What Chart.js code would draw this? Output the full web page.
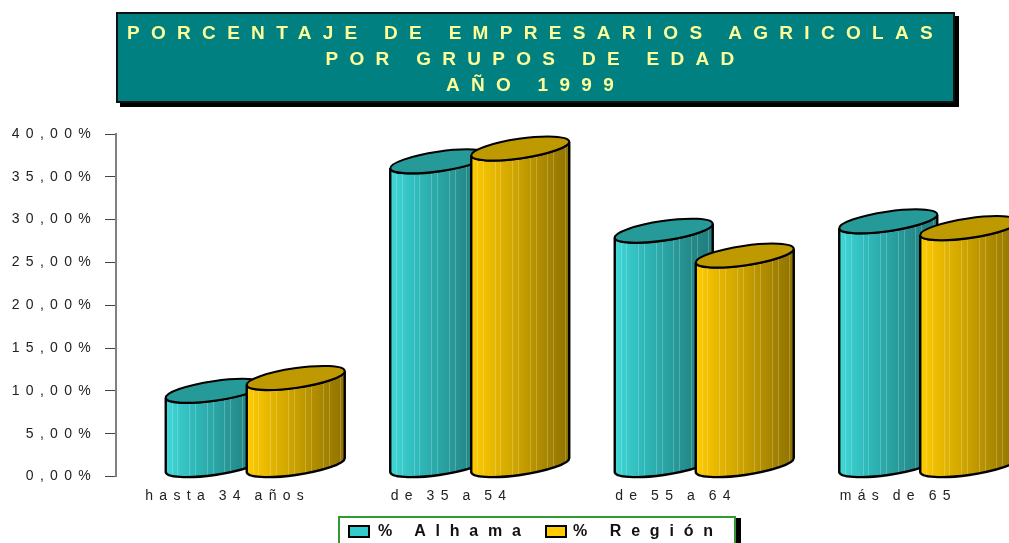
<!DOCTYPE html>
<html>
<head>
    <title>Empresarios agricolas</title>
    <style>
        html, body { margin: 0; padding: 0; background: #fff; overflow: hidden; width: 1009px; height: 543px; }
        body { position: relative; font-family: "Liberation Sans", Arial, sans-serif; }
        canvas { position: absolute; left: 0; top: 0; }
        .banner {
            position: absolute; left: 116px; top: 12px; width: 835px; height: 87px;
            background: #008080; border: 2px solid #111; box-shadow: 4px 4px 0 #000;
            color: #ffff99; font-weight: bold; font-size: 19px; line-height: 26px;
            letter-spacing: 11.3px; word-spacing: -1px; text-align: center;
        }
        .banner div:first-child { margin-top: 6px; }
        .legend {
            position: absolute; left: 338px; top: 516px; width: 394px; height: 40px;
            border: 2px solid #339933; box-shadow: 5px 2px 0 #000; background: #fff;
            font-weight: bold; font-size: 16px; color: #111; letter-spacing: 9.8px; word-spacing: -1.5px;
        }
        .legend span { position: absolute; top: 4px; white-space: nowrap; }
        .legend i { position: absolute; top: 7px; width: 18px; height: 9px; border: 2px solid #000; }
    </style>
</head>
<body>
    <canvas id="chart" width="1040" height="543"></canvas>
    <div class="banner" id="banner"></div>
    <div class="legend" id="legend"></div>

    <script src="https://cdn.jsdelivr.net/npm/chart.js"></script>
    <script>
    const titleLines = ['PORCENTAJE DE EMPRESARIOS AGRICOLAS', 'POR GRUPOS DE EDAD', 'AÑO 1999'];
    const categories = ['hasta 34 años', 'de 35 a 54', 'de 55 a 64', 'más de 65'];
    const alhama = [9.2, 36.0, 27.9, 29.0];
    const region = [10.7, 37.5, 25.0, 28.2];
    const yTickLabels = ['0,00%', '5,00%', '10,00%', '15,00%', '20,00%', '25,00%', '30,00%', '35,00%', '40,00%'];

    document.getElementById('banner').innerHTML = titleLines.map(t => '<div>' + t + '</div>').join('');

    // colours for each cylinder: body gradient, lid
    const looks = [
        { stops: ['#40d8d8', '#31bcbc', '#2aa5a5', '#258c8c', '#1f7c7c'], lid: '#269999', swatch: '#33cccc' },
        { stops: ['#ffcc00', '#e3b500', '#c9a000', '#a98700', '#8f7200'], lid: '#bf9900', swatch: '#ffcc00' }
    ];

    const legendEl = document.getElementById('legend');
    [['% Alhama', 8, 38], ['% Región', 205, 233]].forEach((l, i) => {
        legendEl.innerHTML += '<i style="left:' + l[1] + 'px;background:' + looks[i].swatch + '"></i>' +
            '<span style="left:' + l[2] + 'px">' + l[0] + '</span>';
    });

    // the tilted lid of the cylinders
    const tilt = -8.3 * Math.PI / 180;
    const lidA = 49.5, lidB = 9.75;
    const halfH = 6.9;   // how far the left end sits below the lid centre
    const depth = 27;    // bars stand to the right of their category, like the 3D original

    const cylinders = {
        id: 'cylinders',
        beforeDraw(chart) {
            chart.ctx.letterSpacing = '6.3px';
            chart.ctx.wordSpacing = '-2.5px';
        },
        afterUpdate(chart) {
            // first label sits further left than the others in the original
            chart.scales.x.getLabelItems()[0].options.translation[0] -= 21;
        },
        afterDatasetsDraw(chart) {
            const ctx = chart.ctx;
            const t0 = Math.atan2(-lidB * Math.sin(tilt), lidA * Math.cos(tilt));
            const halfW = Math.sqrt(lidA * lidA * Math.cos(tilt) ** 2 + lidB * lidB * Math.sin(tilt) ** 2);
            chart.data.datasets.forEach((ds, d) => {
                chart.getDatasetMeta(d).data.forEach(bar => {
                    const cx = bar.x + depth;
                    const topY = bar.y - halfH;
                    const botY = bar.base - 4 - halfH;

                    const body = new Path2D();
                    body.ellipse(cx, botY, lidA, lidB, tilt, t0, t0 + Math.PI);
                    body.lineTo(cx - halfW, topY + halfH);
                    body.ellipse(cx, topY, lidA, lidB, tilt, t0 + Math.PI, t0, true);
                    body.closePath();

                    const grad = ctx.createLinearGradient(cx - halfW, 0, cx + halfW, 0);
                    looks[d].stops.forEach((c, i) => grad.addColorStop(i / (looks[d].stops.length - 1), c));
                    ctx.save();
                    ctx.fillStyle = grad;
                    ctx.fill(body);

                    // the thin pale slats on the body
                    ctx.save();
                    ctx.clip(body);
                    ctx.strokeStyle = 'rgba(255,255,255,0.22)';
                    ctx.lineWidth = 1;
                    for (let i = 1; i < 17; i++) {
                        if (i % 3 === 0) continue;
                        const x = Math.round(cx - halfW + i * 5.85) + 0.5;
                        ctx.beginPath();
                        ctx.moveTo(x, topY - 40);
                        ctx.lineTo(x, bar.base + 10);
                        ctx.stroke();
                    }
                    ctx.restore();

                    ctx.strokeStyle = '#000';
                    ctx.lineWidth = 2.4;
                    ctx.stroke(body);

                    ctx.lineWidth = 2;
                    ctx.beginPath();
                    ctx.ellipse(cx, topY, lidA, lidB, tilt, 0, Math.PI * 2);
                    ctx.fillStyle = looks[d].lid;
                    ctx.fill();
                    ctx.stroke();
                    ctx.restore();
                });
            });
        }
    };

    new Chart(document.getElementById('chart'), {
        type: 'bar',
        data: {
            labels: categories,
            datasets: [
                { label: '% Alhama', data: alhama, backgroundColor: 'transparent', categoryPercentage: 0.7216, barPercentage: 1.21 },
                { label: '% Región', data: region, backgroundColor: 'transparent', categoryPercentage: 0.7216, barPercentage: 1.21 }
            ]
        },
        options: {
            responsive: false,
            animation: false,
            layout: { padding: { left: 0, top: 134, right: 26, bottom: 36.5 } },
            plugins: { legend: { display: false }, tooltip: { enabled: false } },
            scales: {
                x: {
                    afterFit(s) { s.height = 30; },
                    grid: { display: false },
                    border: { display: false },
                    ticks: {
                        align: 'start', labelOffset: -62, padding: 3, autoSkip: false, maxRotation: 0,
                        color: '#222', font: { family: 'Liberation Sans', size: 14 }
                    }
                },
                y: {
                    min: 0, max: 40,
                    afterFit(s) { s.width = 116; },
                    grid: { drawOnChartArea: false, color: '#444', tickLength: 11 },
                    border: { color: '#808080', width: 2 },
                    ticks: {
                        stepSize: 5, padding: 8, color: '#222', font: { family: 'Liberation Sans', size: 14 },
                        callback: (v, i) => yTickLabels[i]
                    }
                }
            }
        },
        plugins: [cylinders]
    });
    </script>
</body>
</html>
